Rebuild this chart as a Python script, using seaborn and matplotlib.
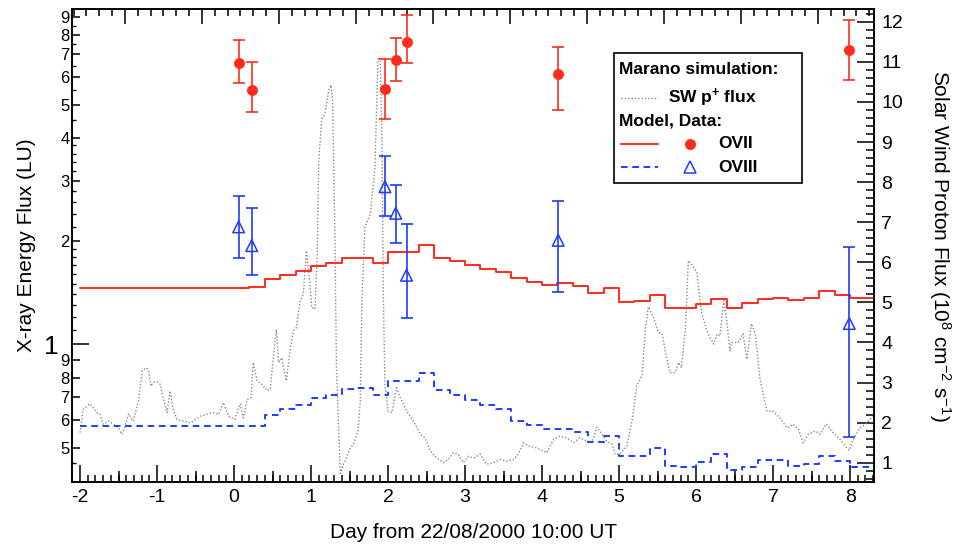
import numpy as np
import matplotlib
matplotlib.use("Agg")
import matplotlib.pyplot as plt
import seaborn as sns
from matplotlib.ticker import FixedLocator, NullFormatter, FuncFormatter, NullLocator
from matplotlib.patches import Rectangle
from matplotlib.markers import MarkerStyle

# ---------------- data ----------------
obs_day = [0.06, 0.23, 1.96, 2.10, 2.24, 4.21, 7.99]

ovii_flux = [6.60, 5.51, 5.54, 6.74, 7.59, 6.12, 7.21]
ovii_hi = [7.71, 6.67, 6.77, 7.83, 9.10, 7.37, 8.82]
ovii_lo = [5.77, 4.75, 4.54, 5.86, 6.61, 4.82, 5.90]

oviii_flux = [2.20, 1.94, 2.88, 2.41, 1.59, 2.01, 1.15]
oviii_hi = [2.71, 2.50, 3.55, 2.91, 2.24, 2.62, 1.92]
oviii_lo = [1.79, 1.59, 2.37, 1.97, 1.19, 1.42, 0.538]

model_day = [-2.0, 0.2, 0.4, 0.6, 0.8, 1.0, 1.2, 1.4, 1.6, 1.8,
             2.0, 2.2, 2.4, 2.6, 2.8, 3.0, 3.2, 3.4, 3.6, 3.8,
             4.0, 4.2, 4.4, 4.6, 4.8, 5.0, 5.2, 5.4, 5.6, 5.8,
             6.0, 6.2, 6.4, 6.6, 6.8, 7.0, 7.2, 7.4, 7.6, 7.8,
             8.0]
ovii_model = [1.457, 1.469, 1.547, 1.589, 1.639, 1.695, 1.726, 1.781, 1.789, 1.726,
              1.862, 1.862, 1.948, 1.789, 1.750, 1.703, 1.654, 1.621, 1.557, 1.522,
              1.489, 1.512, 1.479, 1.414, 1.464, 1.331, 1.342, 1.389, 1.279, 1.274,
              1.311, 1.358, 1.274, 1.319, 1.358, 1.367, 1.349, 1.362, 1.427, 1.392,
              1.367]
oviii_model = [0.579, 0.579, 0.622, 0.646, 0.665, 0.697, 0.713, 0.740, 0.744, 0.712,
               0.782, 0.782, 0.823, 0.736, 0.712, 0.688, 0.665, 0.646, 0.599, 0.582,
               0.565, 0.566, 0.554, 0.519, 0.540, 0.472, 0.473, 0.499, 0.442, 0.438,
               0.453, 0.479, 0.430, 0.438, 0.460, 0.460, 0.443, 0.447, 0.473, 0.457,
               0.438]

sw_day = [-2.00, -1.96, -1.87, -1.78, -1.74, -1.70, -1.63, -1.57, -1.50, -1.46,
          -1.42, -1.37, -1.31, -1.24, -1.19, -1.14, -1.11, -1.08, -1.05, -1.00,
          -0.96, -0.92, -0.87, -0.83, -0.79, -0.74, -0.66, -0.57, -0.53, -0.44,
          -0.36, -0.27, -0.20, -0.14, -0.07, 0.01, 0.08, 0.12, 0.17, 0.22,
          0.25, 0.30, 0.36, 0.43, 0.47, 0.51, 0.55, 0.58, 0.62, 0.68,
          0.73, 0.77, 0.81, 0.86, 0.90, 0.94, 0.97, 1.01, 1.05, 1.08,
          1.10, 1.14, 1.18, 1.23, 1.26, 1.28, 1.31, 1.33, 1.38, 1.42,
          1.46, 1.51, 1.55, 1.61, 1.64, 1.66, 1.70, 1.77, 1.83, 1.87,
          1.90, 1.92, 1.94, 1.96, 2.00, 2.05, 2.11, 2.16, 2.24, 2.33,
          2.42, 2.48, 2.55, 2.63, 2.72, 2.78, 2.85, 2.91, 2.98, 3.04,
          3.11, 3.20, 3.28, 3.37, 3.46, 3.54, 3.63, 3.69, 3.76, 3.84,
          3.93, 4.06, 4.15, 4.23, 4.32, 4.41, 4.49, 4.58, 4.65, 4.71,
          4.78, 4.84, 4.91, 4.95, 5.01, 5.10, 5.17, 5.23, 5.30, 5.34,
          5.38, 5.45, 5.51, 5.56, 5.60, 5.66, 5.73, 5.77, 5.81, 5.86,
          5.90, 5.94, 6.01, 6.07, 6.14, 6.23, 6.27, 6.31, 6.36, 6.40,
          6.44, 6.46, 6.55, 6.61, 6.66, 6.72, 6.77, 6.83, 6.92, 7.00,
          7.09, 7.18, 7.26, 7.33, 7.39, 7.46, 7.55, 7.61, 7.69, 7.76,
          7.87, 7.94, 7.99, 8.04, 8.13, 8.20, 8.30]
sw_flux = [1.75, 2.33, 2.47, 2.25, 2.21, 1.96, 2.04, 1.96, 1.87, 1.71,
           1.87, 2.22, 2.04, 2.54, 3.29, 3.37, 3.29, 2.91, 3.00, 3.02,
           2.96, 2.62, 2.25, 2.79, 2.33, 2.08, 2.04, 2.00, 2.04, 2.16,
           2.21, 2.25, 2.21, 2.50, 2.16, 2.08, 2.47, 2.12, 2.58, 2.62,
           3.50, 3.04, 2.96, 2.79, 2.83, 3.62, 4.33, 3.50, 3.62, 3.04,
           3.83, 4.29, 4.37, 5.04, 5.21, 6.29, 5.79, 4.87, 4.83, 6.12,
           8.54, 9.58, 9.71, 10.29, 10.42, 10.04, 6.72, 3.37, 0.73, 0.96,
           1.12, 1.37, 1.46, 1.79, 2.54, 5.04, 6.87, 7.21, 8.37, 11.12,
           11.04, 9.21, 5.04, 2.96, 2.29, 2.25, 2.87, 2.62, 2.29, 2.04,
           1.71, 1.62, 1.29, 1.12, 1.00, 1.08, 1.25, 1.21, 1.00, 1.16,
           1.12, 1.21, 0.96, 1.00, 1.08, 1.04, 1.08, 1.21, 1.50, 1.41,
           1.37, 1.25, 1.58, 1.66, 1.62, 1.50, 1.62, 1.54, 1.50, 1.89,
           1.71, 1.54, 1.46, 1.21, 1.21, 1.41, 2.06, 2.91, 3.20, 4.29,
           4.89, 4.62, 4.25, 4.21, 3.79, 3.25, 3.25, 3.50, 3.37, 4.29,
           6.04, 5.96, 5.75, 4.75, 4.29, 3.96, 4.21, 4.16, 5.04, 4.54,
           3.79, 4.00, 4.00, 4.22, 3.58, 4.47, 4.21, 3.08, 2.29, 2.29,
           2.12, 1.87, 1.96, 1.83, 1.50, 1.71, 1.79, 1.71, 1.97, 1.79,
           1.58, 1.41, 1.31, 1.58, 1.87, 1.96, 2.16]

x_ticks = [-2, -1, 0, 1, 2, 3, 4, 5, 6, 7, 8]
left_labeled = [0.5, 0.6, 0.7, 0.8, 0.9, 2, 3, 4, 5, 6, 7, 8, 9]
right_ticks = [1, 2, 3, 4, 5, 6, 7, 8, 9, 10, 11, 12]

# ---------------- style ----------------
RED = "#ff2b1c"
BLUE = "#1d3cff"
GREY = "#8a8a8a"

sns.set_theme(style="ticks")
plt.rcParams["font.family"] = ["Liberation Sans", "DejaVu Sans"]
plt.rcParams["mathtext.fontset"] = "custom"
plt.rcParams["mathtext.rm"] = "Liberation Sans"
plt.rcParams["mathtext.it"] = "Liberation Sans:italic"
plt.rcParams["mathtext.bf"] = "Liberation Sans:bold"
plt.rcParams["xtick.direction"] = "in"
plt.rcParams["ytick.direction"] = "in"
plt.rcParams["axes.linewidth"] = 1.2
plt.rcParams["xtick.major.width"] = 1.1
plt.rcParams["xtick.minor.width"] = 1.1
plt.rcParams["ytick.major.width"] = 1.1
plt.rcParams["ytick.minor.width"] = 1.1
plt.rcParams["text.color"] = "black"
plt.rcParams["axes.labelcolor"] = "black"
plt.rcParams["axes.edgecolor"] = "black"
plt.rcParams["xtick.color"] = "black"
plt.rcParams["ytick.color"] = "black"
plt.rcParams["xtick.labelcolor"] = "black"
plt.rcParams["ytick.labelcolor"] = "black"

XMIN, XMAX = -2.1, 8.315

fig = plt.figure(figsize=(9.59, 5.48), dpi=100)
ax = fig.add_axes([0.0754, 0.1199, 0.8363, 0.8637])
ax2 = ax.twinx()

# solar wind proton flux (right axis)
sns.lineplot(x=sw_day, y=sw_flux, ax=ax2, color=GREY, lw=1.0,
             linestyle=(0, (1, 1.4)), sort=False, estimator=None)

ax.set_zorder(ax2.get_zorder() + 1)
ax.patch.set_visible(False)

ax.set_yscale("log")
ax.set_xlim(XMIN, XMAX)
ax.set_ylim(0.396, 9.50)
ax2.set_ylim(0.512, 12.32)

# model step curves
mx = model_day + [XMAX]
sns.lineplot(x=mx, y=ovii_model + [ovii_model[-1]], ax=ax, color=RED, lw=1.4,
             drawstyle="steps-post", sort=False, estimator=None)
sns.lineplot(x=mx, y=oviii_model + [oviii_model[-1]], ax=ax, color=BLUE, lw=1.4,
             linestyle=(0, (3.4, 2.4)), drawstyle="steps-post", sort=False, estimator=None)

# data with error bars
ovii_err = [np.array(ovii_flux) - np.array(ovii_lo), np.array(ovii_hi) - np.array(ovii_flux)]
oviii_err = [np.array(oviii_flux) - np.array(oviii_lo), np.array(oviii_hi) - np.array(oviii_flux)]
ax.errorbar(obs_day, ovii_flux, yerr=ovii_err, fmt="none", ecolor=RED,
            elinewidth=1.2, capsize=4, capthick=1.2)
ax.errorbar(obs_day, oviii_flux, yerr=oviii_err, fmt="none", ecolor=BLUE,
            elinewidth=1.2, capsize=4, capthick=1.2)
sns.scatterplot(x=obs_day, y=ovii_flux, ax=ax, color=RED, s=62, marker="o",
                edgecolor=RED, linewidth=0, zorder=5)
sns.scatterplot(x=obs_day, y=oviii_flux, ax=ax, color=BLUE, s=70,
                marker=MarkerStyle("^", fillstyle="none"), linewidth=1.1, zorder=5)

# ---------------- axes / ticks ----------------
ax.set_xticks(x_ticks)
ax.set_xticklabels([str(v) for v in x_ticks])
ax.xaxis.set_minor_locator(FixedLocator([round(-2.1 + 0.1 * k, 2) for k in range(0, 105)]))
ax.tick_params(axis="x", which="major", length=12, labelsize=14, top=False, pad=5)
ax.tick_params(axis="x", which="minor", length=5, top=False)

ax.yaxis.set_major_locator(FixedLocator([1]))
ax.yaxis.set_major_formatter(FuncFormatter(lambda v, p: "1"))
ax.yaxis.set_minor_locator(FixedLocator(left_labeled))
ax.yaxis.set_minor_formatter(FuncFormatter(
    lambda v, p: str(int(round(v * 10))) if v < 1 else str(int(round(v)))))
ax.tick_params(axis="y", which="major", length=12, labelsize=19, right=False, pad=10)
ax.tick_params(axis="y", which="minor", length=6, labelsize=12, right=False, pad=2)

# finer unlabeled ticks on the log axis
fine = [0.45, 1.1, 1.2, 1.3, 1.4, 1.5, 1.6, 1.7, 1.8, 1.9,
        2.2, 2.4, 2.6, 2.8, 3.2, 3.4, 3.6, 3.8, 4.5, 5.5, 6.5, 7.5, 8.5]
secl = ax.secondary_yaxis("left")
secl.set_yticks(fine)
secl.yaxis.set_major_formatter(NullFormatter())
secl.yaxis.set_minor_locator(NullLocator())
secl.tick_params(axis="y", which="major", length=3, direction="in", width=1.0)
for s in secl.spines.values():
    s.set_visible(False)

# half-day ticks on bottom axis
secb = ax.secondary_xaxis("bottom")
secb.set_xticks([-1.5, -0.5, 0.5, 1.5, 2.5, 3.5, 4.5, 5.5, 6.5, 7.5])
secb.xaxis.set_major_formatter(NullFormatter())
secb.tick_params(axis="x", which="major", length=8, direction="in", width=1.1)
for s in secb.spines.values():
    s.set_visible(False)

# top axis: midnight (UT) ticks
sect = ax.secondary_xaxis("top")
top_major = [d + 7.0 / 12.0 for d in range(-2, 8)]
top_minor = [7.0 / 12.0 + k / 6.0 for k in range(-16, 47) if k % 6 != 0]
top_minor = [t for t in top_minor if XMIN < t < XMAX]
sect.set_xticks(top_major)
sect.xaxis.set_major_formatter(NullFormatter())
sect.xaxis.set_minor_locator(FixedLocator(top_minor))
sect.xaxis.set_minor_formatter(NullFormatter())
sect.tick_params(axis="x", which="major", length=11, direction="in", width=1.1)
sect.tick_params(axis="x", which="minor", length=5, direction="in", width=1.1)
for s in sect.spines.values():
    s.set_visible(False)

ax2.set_yticks(right_ticks)
ax2.set_yticklabels([str(v) for v in right_ticks])
ax2.yaxis.set_minor_locator(FixedLocator([round(0.6 + 0.2 * k, 2) for k in range(0, 59)]))
ax2.tick_params(axis="y", which="major", length=12, labelsize=14, pad=5)
ax2.tick_params(axis="y", which="minor", length=6)
ax2.set_ylabel("")
ax2.set_xlabel("")

for a in (ax, ax2):
    for s in a.spines.values():
        s.set_linewidth(1.2)
        s.set_color("black")

ax.set_xlabel("Day from 22/08/2000 10:00 UT", fontsize=15, color="black")
ax.xaxis.set_label_coords(0.5, -0.107)
ax.xaxis.label.set_va("center")
ax.set_ylabel("X-ray Energy Flux (LU)", fontsize=15, color="black")
ax.yaxis.set_label_coords(-0.0577, 0.5)
ax.yaxis.label.set_va("center")
fig.text(0.0754 + 0.8363 * 1.082, 0.1199 + 0.8637 * 0.5,
         "Solar Wind Proton Flux (10$^{8}$ cm$^{-2}$ s$^{-1}$)",
         rotation=270, fontsize=15, ha="center", va="center", color="black")

# ---------------- legend box ----------------
T = ax.transAxes
ax.add_patch(Rectangle((0.6754, 0.6317), 0.9099 - 0.6754, 0.9077 - 0.6317,
                       transform=T, facecolor="white", edgecolor="black",
                       lw=1.2, zorder=10))
fs = 12.5
ax.text(0.6817, 0.8726, "Marano simulation:", transform=T, fontsize=fs,
        fontweight="bold", va="center", ha="left", zorder=11)
ax.plot([0.6838, 0.7307], [0.8113, 0.8113], transform=T, color=GREY, lw=1.0,
        linestyle=(0, (1, 1.4)), zorder=11)
ax.text(0.7431, 0.8113, r"SW p$^{\mathbf{+}}$ flux", transform=T, fontsize=fs,
        fontweight="bold", va="center", ha="left", zorder=11)
ax.text(0.6817, 0.7634, "Model, Data:", transform=T, fontsize=fs,
        fontweight="bold", va="center", ha="left", zorder=11)
ax.plot([0.6838, 0.7307], [0.7148, 0.7148], transform=T, color=RED, lw=1.4, zorder=11)
ax.plot([0.7702], [0.7148], transform=T, marker="o", color=RED, markersize=7.9,
        markeredgewidth=0, zorder=11)
ax.text(0.8055, 0.7148, "OVII", transform=T, fontsize=fs,
        fontweight="bold", va="center", ha="left", zorder=11)
ax.plot([0.6838, 0.7307], [0.6655, 0.6655], transform=T, color=BLUE, lw=1.4,
        linestyle=(0, (3.4, 2.4)), zorder=11)
ax.plot([0.7702], [0.6655], transform=T, marker="^", color=BLUE, markersize=8.4,
        markerfacecolor="none", markeredgewidth=1.1, zorder=11)
ax.text(0.8055, 0.6655, "OVIII", transform=T, fontsize=fs,
        fontweight="bold", va="center", ha="left", zorder=11)

fig.savefig("out.png", dpi=100)
